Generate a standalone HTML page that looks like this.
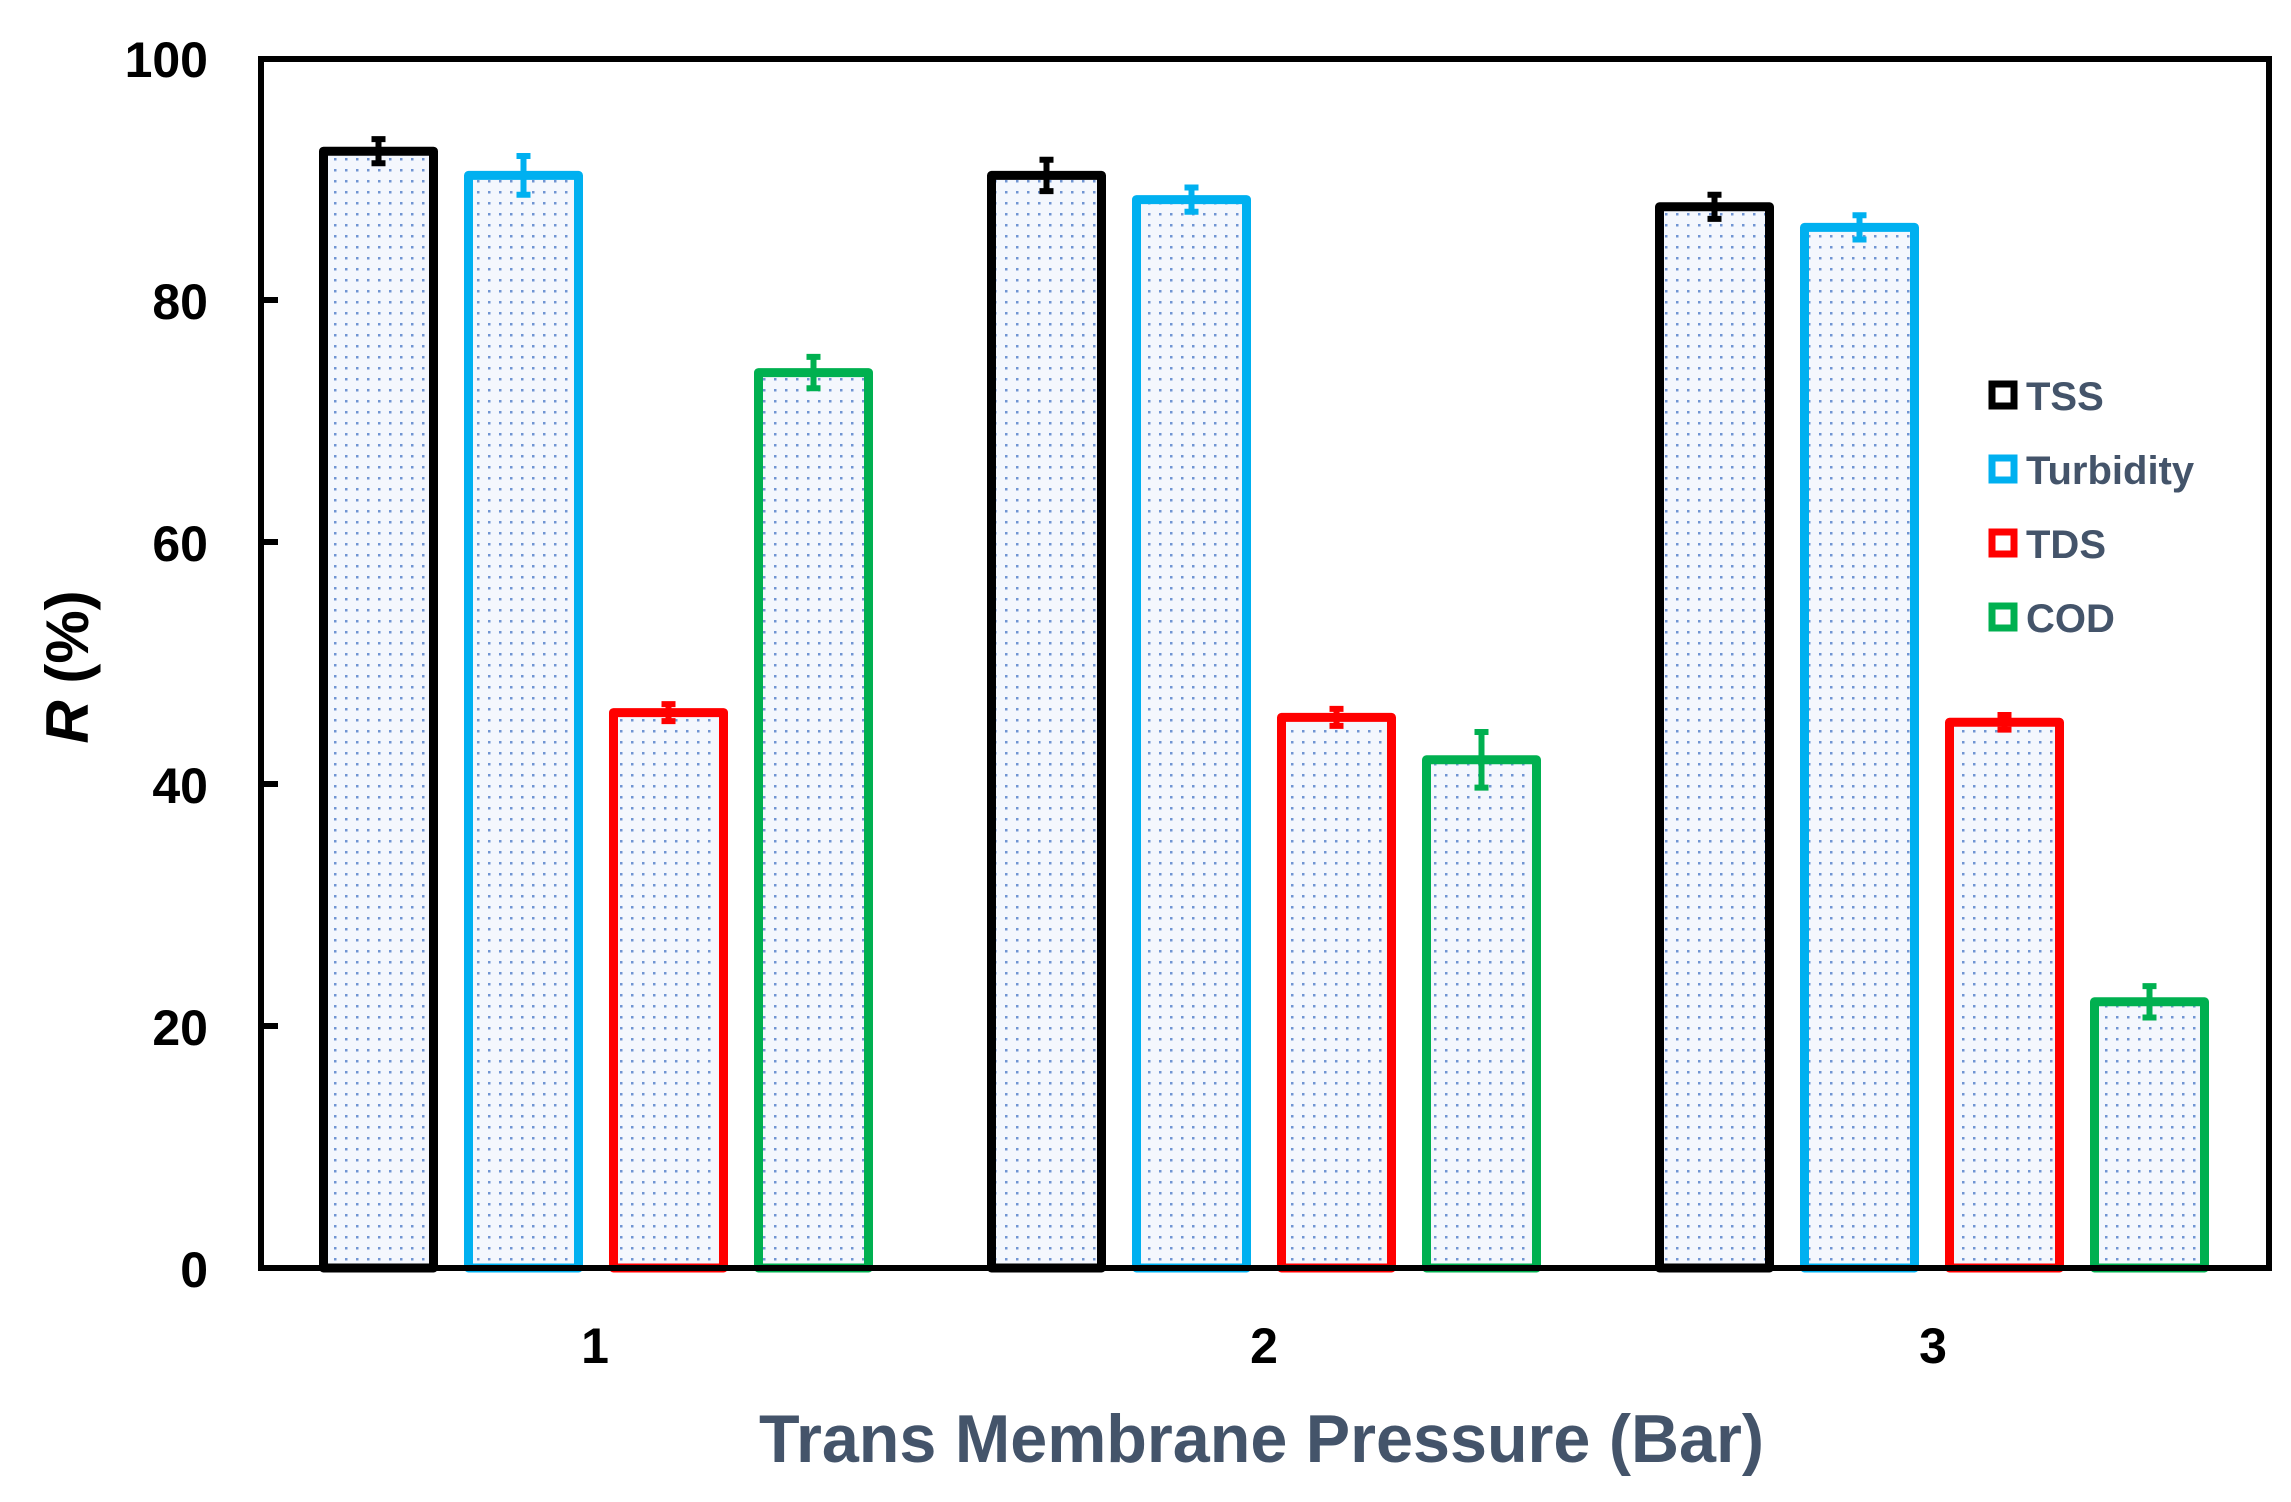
<!DOCTYPE html>
<html><head><meta charset="utf-8"><style>html,body{margin:0;padding:0;background:#fff}svg{display:block}</style></head>
<body>
<svg width="2291" height="1502" viewBox="0 0 2291 1502" xmlns="http://www.w3.org/2000/svg" font-family="Liberation Sans, sans-serif">
<defs>
<pattern id="dots" width="11" height="11" patternUnits="userSpaceOnUse">
<rect width="11" height="11" fill="#f4f7fd"/>
<rect x="4" y="4" width="2.5" height="2.5" fill="#4472c4" opacity="0.75"/>
</pattern>
</defs>
<rect width="2291" height="1502" fill="#fff"/>
<g stroke-width="9" stroke-linejoin="round" fill="url(#dots)">
<rect x="323.5" y="151.2" width="110" height="1116.8" stroke="#000"/>
<rect x="468.5" y="175.4" width="110" height="1092.6" stroke="#00b0f0"/>
<rect x="613.5" y="712.6" width="110" height="555.4" stroke="#ff0000"/>
<rect x="758.5" y="372.6" width="110" height="895.4" stroke="#00b050"/>
<rect x="991.5" y="175.4" width="110" height="1092.6" stroke="#000"/>
<rect x="1136.5" y="199.6" width="110" height="1068.4" stroke="#00b0f0"/>
<rect x="1281.5" y="717.4" width="110" height="550.6" stroke="#ff0000"/>
<rect x="1426.5" y="759.8" width="110" height="508.2" stroke="#00b050"/>
<rect x="1659.5" y="206.8" width="110" height="1061.2" stroke="#000"/>
<rect x="1804.5" y="227.4" width="110" height="1040.6" stroke="#00b0f0"/>
<rect x="1949.5" y="722.3" width="110" height="545.7" stroke="#ff0000"/>
<rect x="2094.5" y="1001.8" width="110" height="266.2" stroke="#00b050"/>
</g>
<g stroke-width="6" fill="none">
<path stroke="#000" d="M378.5 139.1V163.3M371.5 139.1h14M371.5 163.3h14 M1046.5 159.7V191.1M1039.5 159.7h14M1039.5 191.1h14 M1714.5 194.7V218.9M1707.5 194.7h14M1707.5 218.9h14"/>
<path stroke="#00b0f0" d="M523.5 156V194.8M516.5 156h14M516.5 194.8h14 M1191.5 187.5V211.7M1184.5 187.5h14M1184.5 211.7h14 M1859.5 215.3V239.5M1852.5 215.3h14M1852.5 239.5h14"/>
<path stroke="#ff0000" d="M668.5 704.1V721.1M661.5 704.1h14M661.5 721.1h14 M1336.5 708.9V725.9M1329.5 708.9h14M1329.5 725.9h14 M2004.5 715V729.6M1997.5 715h14M1997.5 729.6h14"/>
<path stroke="#00b050" d="M813.5 356.9V388.3M806.5 356.9h14M806.5 388.3h14 M1481.5 732V787.6M1474.5 732h14M1474.5 787.6h14 M2149.5 986.1V1017.5M2142.5 986.1h14M2142.5 1017.5h14"/>
</g>
<rect x="261" y="59" width="2008" height="1209" fill="none" stroke="#000" stroke-width="6"/>
<g stroke="#000" stroke-width="6">
<line x1="261" y1="1026" x2="278" y2="1026"/><line x1="261" y1="784" x2="278" y2="784"/>
<line x1="261" y1="542" x2="278" y2="542"/><line x1="261" y1="300" x2="278" y2="300"/>
</g>
<g font-size="50" font-weight="bold" text-anchor="end" fill="#000">
<text x="208" y="77">100</text><text x="208" y="319">80</text><text x="208" y="561">60</text>
<text x="208" y="803">40</text><text x="208" y="1045">20</text><text x="208" y="1287">0</text>
</g>
<g font-size="50" font-weight="bold" text-anchor="middle" fill="#000">
<text x="595" y="1363">1</text><text x="1264" y="1363">2</text><text x="1933" y="1363">3</text>
</g>
<text x="759" y="1462" font-size="68" font-weight="bold" fill="#44546a" textLength="1005" lengthAdjust="spacingAndGlyphs">Trans Membrane Pressure (Bar)</text>
<text transform="translate(88,667) rotate(-90)" font-size="60" font-weight="bold" text-anchor="middle" fill="#000"><tspan font-style="italic">R</tspan> (%)</text>
<g font-size="40" font-weight="bold" fill="#44546a">
<rect x="1992" y="384" width="22" height="22" fill="#fff" stroke="#000" stroke-width="7"/><text x="2026" y="410">TSS</text>
<rect x="1992" y="458" width="22" height="22" fill="#fff" stroke="#00b0f0" stroke-width="7"/><text x="2026" y="484">Turbidity</text>
<rect x="1992" y="532" width="22" height="22" fill="#fff" stroke="#ff0000" stroke-width="7"/><text x="2026" y="558">TDS</text>
<rect x="1992" y="606" width="22" height="22" fill="#fff" stroke="#00b050" stroke-width="7"/><text x="2026" y="632">COD</text>
</g>
</svg>
</body></html>
